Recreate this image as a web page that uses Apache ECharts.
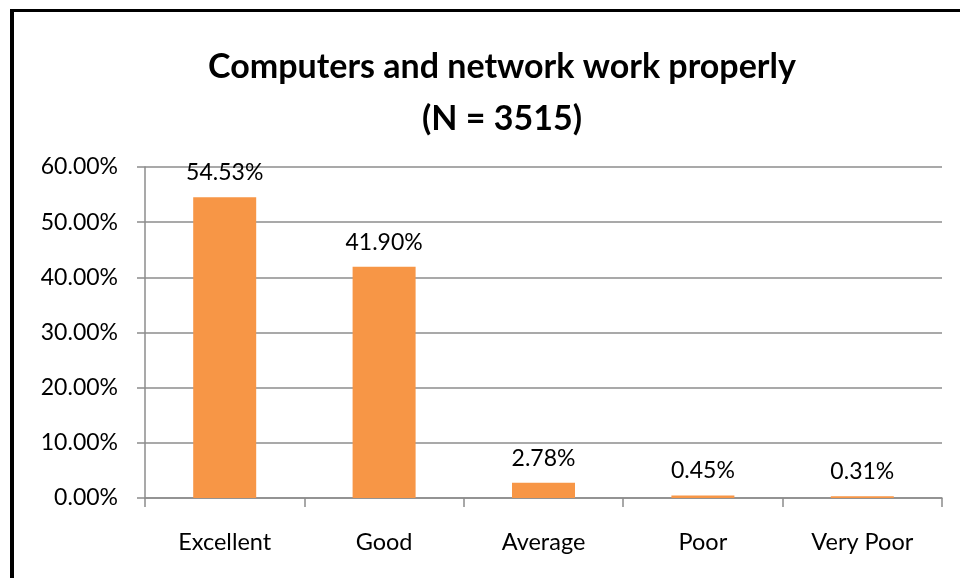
<!DOCTYPE html>
<html>
<head>
<meta charset="utf-8">
<script src="https://cdn.jsdelivr.net/npm/echarts@6/dist/echarts.min.js"></script>
<style>
  html, body { margin: 0; padding: 0; background: #fff; }
  #chart { width: 960px; height: 578px; }
</style>
</head>
<body>
<div id="chart"></div>
<script>
var categories = ["Excellent", "Good", "Average", "Poor", "Very Poor"];
var shares = [54.53, 41.90, 2.78, 0.45, 0.31];
var titleLines = ["Computers and network work properly", "(N = 3515)"];

var font = "Lato, 'Open Sans', sans-serif";
var chart = echarts.init(document.getElementById("chart"));

chart.setOption({
    backgroundColor: "#fff",
    animation: false,
    title: {
        text: titleLines.join("\n"),
        left: 497,
        top: 36,
        textAlign: "center",
        textStyle: {
            fontFamily: font,
            fontWeight: "bold",
            fontSize: 34,
            lineHeight: 52,
            color: "#000"
        }
    },
    graphic: [
        { type: "rect", shape: { x: 10, y: 9, width: 4, height: 580 }, style: { fill: "#000" } },
        { type: "rect", shape: { x: 10, y: 9, width: 960, height: 3 }, style: { fill: "#000" } }
    ],
    grid: { left: 145, right: 18, top: 167, bottom: 80 },
    xAxis: {
        type: "category",
        data: categories,
        axisLine: { lineStyle: { color: "#8c8c8c", width: 1.5 } },
        axisTick: { show: true, length: 9, lineStyle: { color: "#8c8c8c", width: 1.5 } },
        axisLabel: { fontFamily: font, fontSize: 23.5, color: "#000", margin: 32 }
    },
    yAxis: {
        type: "value",
        min: 0,
        max: 60,
        interval: 10,
        axisLine: { show: true, lineStyle: { color: "#8c8c8c", width: 1.5 } },
        axisTick: { show: true, length: 8, lineStyle: { color: "#8c8c8c", width: 1.5 } },
        splitLine: { lineStyle: { color: "#8c8c8c", width: 1.5 } },
        axisLabel: {
            fontFamily: font,
            fontSize: 23,
            color: "#000",
            margin: 27,
            formatter: function (v) { return v.toFixed(2) + "%"; }
        }
    },
    series: [{
        type: "bar",
        data: shares,
        barWidth: 63,
        itemStyle: { color: "#f79646" },
        label: {
            show: true,
            position: "top",
            distance: 13,
            fontFamily: font,
            fontSize: 23,
            color: "#000",
            formatter: function (p) { return p.value.toFixed(2) + "%"; }
        }
    }]
});
</script>
</body>
</html>
